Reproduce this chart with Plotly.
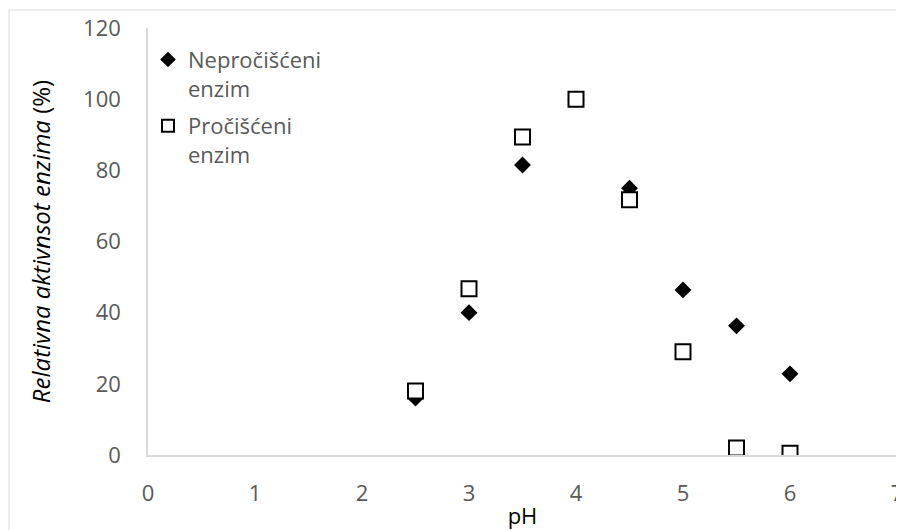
import plotly.graph_objects as go

ph = [2.5, 3, 3.5, 4, 4.5, 5, 5.5, 6]
nepro = [16, 40, 81.5, 100, 75, 46.4, 36.3, 22.8]
pro = [18, 46.7, 89.4, 100, 71.7, 29, 2, 0.5]

series_names = ["Nepročišćeni<br>enzim", "Pročišćeni<br>enzim"]
x_ticks = [0, 1, 2, 3, 4, 5, 6, 7]
y_ticks = [0, 20, 40, 60, 80, 100, 120]

FONT = "Open Sans"
GRAY = "#595959"
AXIS = "#d9d9d9"

fig = go.Figure()
fig.add_trace(go.Scatter(
    x=ph, y=nepro, mode="markers", name=series_names[0], legendgroup="a",
    marker=dict(symbol="diamond", size=13, color="black", line=dict(width=0)),
))
fig.add_trace(go.Scatter(
    x=ph, y=pro, mode="markers", name=series_names[1], legendgroup="b",
    marker=dict(symbol="square", size=15, color="white", line=dict(width=2, color="black")),
))

fig.update_layout(
    width=896, height=522,
    margin=dict(l=140, r=7, t=20, b=75, autoexpand=False),
    paper_bgcolor="white", plot_bgcolor="white",
    font=dict(family=FONT, size=22, color=GRAY),
    showlegend=True,
    legend=dict(x=0.0, y=0.975, xanchor="left", yanchor="top", valign="top",
                font=dict(family=FONT, size=22, color=GRAY), bgcolor="rgba(0,0,0,0)",
                itemsizing="constant", tracegroupgap=6),
    xaxis=dict(range=[0, 7], tickvals=x_ticks, showgrid=False, zeroline=False,
               showline=True, linecolor=AXIS, linewidth=1.5, ticks="",
               automargin=False, ticklabelstandoff=18,
               tickfont=dict(family=FONT, size=22, color=GRAY),
               title=dict(text="pH", font=dict(family=FONT, size=22, color="black"), standoff=7)),
    yaxis=dict(range=[0, 120], tickvals=y_ticks, showgrid=False, zeroline=False,
               showline=True, linecolor=AXIS, linewidth=1.5, ticks="",
               automargin=False, ticklabelstandoff=21,
               tickfont=dict(family=FONT, size=22, color=GRAY),
               title=dict(text="<i>Relativna aktivnsot enzima</i> (%)",
                          font=dict(family=FONT, size=24, color="black"), standoff=26)),
    shapes=[dict(type="rect", xref="paper", yref="paper",
                 x0=-0.1856, x1=1.008, y0=-0.25, y1=1.042,
                 line=dict(color=AXIS, width=1), layer="below")],
)

fig.write_html("out.html")
